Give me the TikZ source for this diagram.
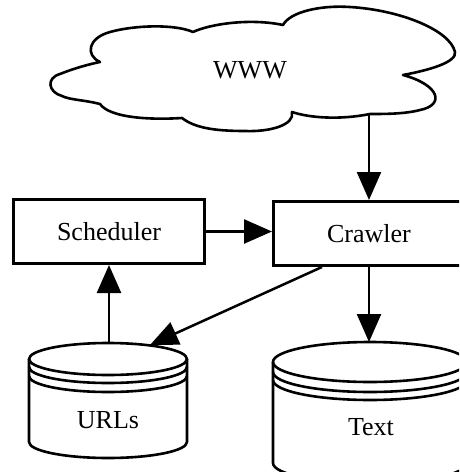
\documentclass[tikz,border=0pt]{standalone}
\usepackage{fontspec}
\setmainfont{Liberation Serif}
\usetikzlibrary{arrows.meta}
\begin{document}
\begin{tikzpicture}[x=1pt,y=-1pt,
  boxnode/.style={draw, line width=3pt, minimum width=191pt, minimum height=64pt, inner sep=0pt, font=\fontsize{26}{30}\selectfont},
  lbl/.style={font=\fontsize{26}{30}\selectfont, inner sep=0pt},
  conn/.style={line width=2.5pt, -{Triangle[length=28pt,width=24pt]}},
  shapeline/.style={line width=2.6pt, line join=round}]
\clip (0,0) rectangle (459,472);
\fill[white] (0,0) rectangle (459,472);
% cloud
\draw[shapeline] (62,96) .. controls (48,92) and (46,78) .. (60,74)
  .. controls (75,68) and (90,64) .. (100,62)
  .. controls (85,55) and (88,38) .. (110,32)
  .. controls (135,25) and (175,24) .. (193,32)
  .. controls (210,24) and (250,18) .. (283,25)
  .. controls (290,12) and (320,5) .. (350,7)
  .. controls (400,10) and (450,30) .. (455,52)
  .. controls (457,62) and (430,70) .. (403,75)
  .. controls (440,85) and (445,105) .. (420,110)
  .. controls (405,114) and (385,114) .. (370,114)
  .. controls (340,120) and (310,118) .. (292,112)
  .. controls (295,125) and (270,132) .. (245,131)
  .. controls (215,131) and (195,128) .. (182,118)
  .. controls (150,120) and (110,118) .. (100,104)
  .. controls (85,100) and (70,100) .. (62,96) -- cycle;
\node[lbl] (www) at (250,70) {WWW};
\coordinate (wwwout) at (369,114);
% boxes
\node[boxnode] (sched) at (109,231.5) {Scheduler};
\node[boxnode] (crawler) at (369,233.5) {Crawler};
% URLs cylinder
\draw[shapeline] (108,359) ellipse[x radius=79, y radius=16];
\draw[shapeline] (29,359) -- (29,442) arc[start angle=180, end angle=0, x radius=79, y radius=16] -- (187,359);
\draw[shapeline] (29,367) arc[start angle=180, end angle=0, x radius=79, y radius=16];
\draw[shapeline] (29,376) arc[start angle=180, end angle=0, x radius=79, y radius=16];
\node[lbl] (urls) at (108,420) {URLs};
\coordinate (urlstop) at (109,343);
\coordinate (urlsin) at (150,345);
% Text cylinder
\draw[shapeline] (370,362) ellipse[x radius=97, y radius=20];
\draw[shapeline] (273,362) -- (273,463) arc[start angle=180, end angle=0, x radius=97, y radius=20] -- (467,362);
\draw[shapeline] (273,372) arc[start angle=180, end angle=0, x radius=97, y radius=20];
\draw[shapeline] (273,380) arc[start angle=180, end angle=0, x radius=97, y radius=20];
\node[lbl] (text) at (371,427) {Text};
\coordinate (texttop) at (369,342);
\coordinate (crout) at (322,267);
% connectors
\draw[conn] (wwwout) -- (crawler.north);
\draw[conn] (sched.east) -- (sched.east -| crawler.west);
\draw[conn] (crawler.south) -- (texttop);
\draw[conn] (crout) -- (urlsin);
\draw[conn] (urlstop) -- (sched.south);
\end{tikzpicture}
\end{document}
